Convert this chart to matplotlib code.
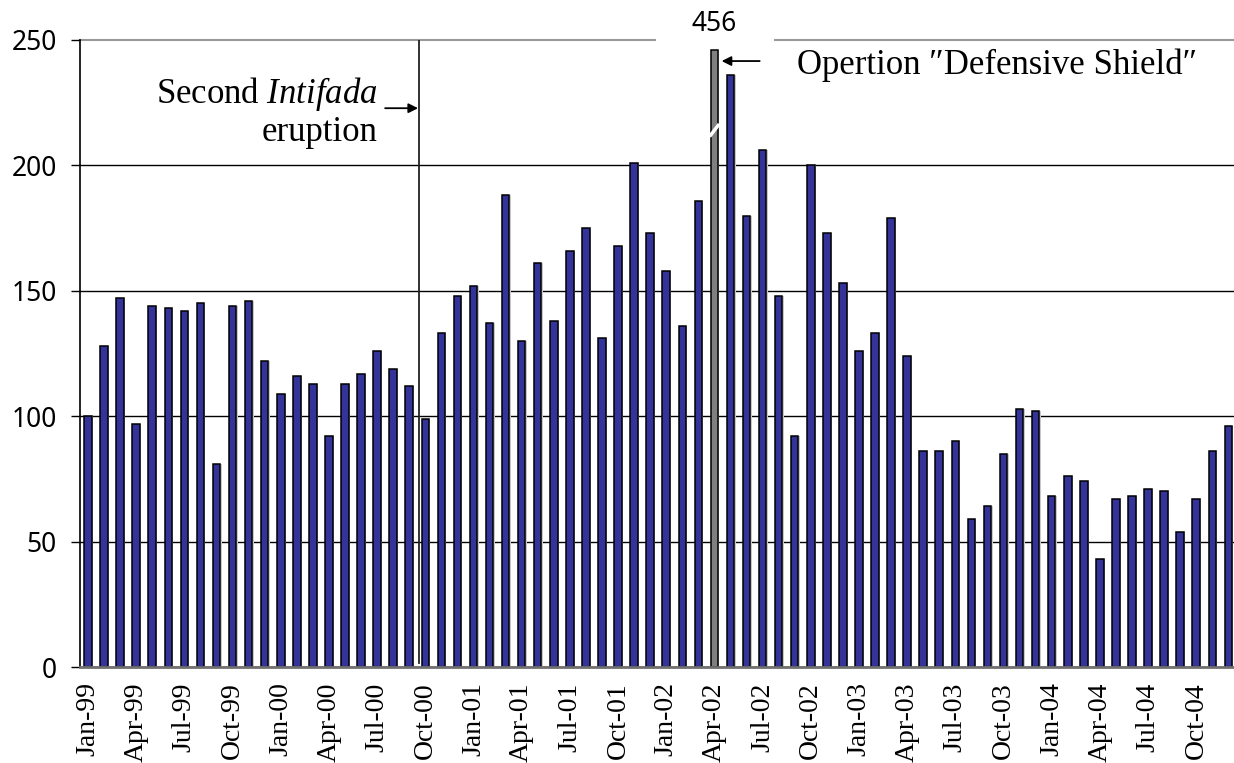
import matplotlib
matplotlib.use("Agg")
import matplotlib.pyplot as plt
from matplotlib.patches import Rectangle
import numpy as np

### DATA
month_names = ["Jan","Feb","Mar","Apr","May","Jun","Jul","Aug","Sep","Oct","Nov","Dec"]
years = ["99","00","01","02","03","04"]
months = [m + "-" + y for y in years for m in month_names]

counts = [100,128,147,97,144,143,142,145,81,144,146,122,
          109,116,113,92,113,117,126,119,112,99,133,148,
          152,137,188,130,161,138,166,175,131,168,201,173,
          158,136,186,456,236,180,206,148,92,200,173,153,
          126,133,179,124,86,86,90,59,64,85,103,102,
          68,76,74,43,67,68,71,70,54,67,86,96]

peak_month = "Apr-02"
intifada_month = "Oct-00"
y_ticks = [0,50,100,150,200,250]
y_top = 250
bar_cap = 246   # broken bar is drawn only up to here
break_at = 214  # where the white break mark sits

plt.rcParams["mathtext.fontset"] = "custom"
plt.rcParams["mathtext.rm"] = "Liberation Serif"
plt.rcParams["mathtext.it"] = "Liberation Serif:italic"

fig = plt.figure(figsize=(12.34, 7.63), dpi=100)
ax = fig.add_axes([0.0648, 0.1258, 0.9352, 0.8218])

x_pos = np.arange(len(months))
heights = [min(v, bar_cap) for v in counts]
colors = ["#808080" if m == peak_month else "#333399" for m in months]

# light shadow to the right of each bar, like the original
ax.bar(x_pos + 0.08, heights, width=0.47, color="#c8c8c8", linewidth=0, zorder=1.5)
bars = ax.bar(x_pos, heights, width=0.47, color=colors, edgecolor="black",
              linewidth=1.1, zorder=2)

# break mark on the tall bar
ip = months.index(peak_month)
ax.plot([ip - 0.3, ip + 0.3], [break_at - 2.5, break_at + 2.5], color="white",
        lw=2.5, zorder=3, solid_capstyle="butt")

ax.set_xlim(-0.5, len(months) - 0.65)
ax.set_ylim(0, y_top)
ax.set_yticks(y_ticks)
ax.set_yticklabels([str(t) for t in y_ticks], fontfamily="Noto Sans", fontsize=19)
ax.tick_params(axis="y", length=6.5, width=1, color="black", pad=10)

ax.set_xticks(x_pos[::3])
ax.set_xticklabels(months[::3], rotation=90, fontfamily="Liberation Serif",
                   fontsize=20)
ax.tick_params(axis="x", length=0, pad=11)

ax.set_axisbelow(True)
ax.yaxis.grid(True, color="black", lw=1)
gl = ax.get_ygridlines()
gl[-1].set_color("#999999")
gl[-1].set_linewidth(1.5)
gl[-1].set_clip_on(False)

for s in ["top", "right"]:
    ax.spines[s].set_visible(False)
ax.spines["left"].set_color("black")
ax.spines["left"].set_linewidth(1.2)
ax.spines["bottom"].set_color("#707070")
ax.spines["bottom"].set_linewidth(2)

# gap in the top line behind the "456" label
gap = Rectangle((ip - 3.65, 0.985), 7.35, 0.03, transform=ax.get_xaxis_transform(),
                facecolor="white", edgecolor="none", zorder=1, clip_on=False)
ax.add_patch(gap)
ax.text(ip, 256.5, str(counts[ip]), ha="center", va="center",
        fontfamily="Noto Sans", fontsize=19, clip_on=False)

# Second Intifada line
ii = months.index(intifada_month)
ax.plot([ii - 0.4, ii - 0.4], [1.5, y_top], color="#222222", lw=1.3, zorder=3)
ax.text(ii - 2.95, 224.8, "Second $\\mathit{Intifada}$", ha="right",
        va="baseline", fontfamily="Liberation Serif", fontsize=25)
ax.text(ii - 2.95, 209.7, "eruption", ha="right", va="baseline",
        fontfamily="Liberation Serif", fontsize=25)
ax.annotate("", xy=(ii - 0.45, 222.8), xytext=(ii - 2.5, 222.8),
            arrowprops=dict(arrowstyle="-|>", color="black", lw=1.3,
                            mutation_scale=14, shrinkA=0, shrinkB=0))

# Defensive Shield
ax.text(ip + 5.12, 236.4, "Opertion \u2033Defensive Shield\u2033", ha="left",
        va="baseline", fontfamily=["Liberation Serif", "DejaVu Serif"], fontsize=25)
ax.annotate("", xy=(ip + 0.45, 241.6), xytext=(ip + 2.82, 241.6),
            arrowprops=dict(arrowstyle="-|>", color="black", lw=1.3,
                            mutation_scale=14, shrinkA=0, shrinkB=0))

fig.savefig("out.png", dpi=100)
